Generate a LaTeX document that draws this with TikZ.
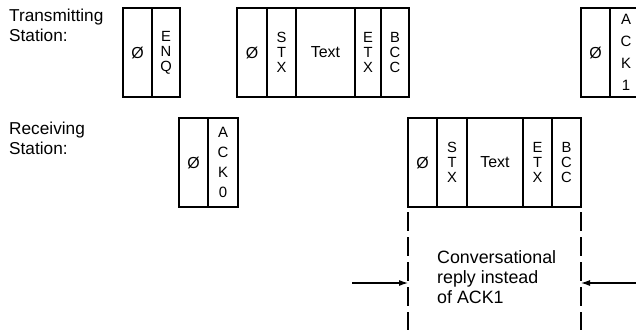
\documentclass[tikz,border=0pt]{standalone}
\usepackage{fontspec}
\setmainfont{Liberation Sans}
\usepackage{tikz}
\usetikzlibrary{positioning,arrows.meta}

\tikzset{
  cell/.style={draw, line width=1.4bp, minimum height=89bp, inner sep=0pt,
    outer sep=0pt, align=center, font=\fontsize{14.8}{15.2}\selectfont},
  wordcell/.style={cell, font=\fontsize{16}{18}\selectfont},
  ackcell/.style={cell, font=\fontsize{15}{20}\selectfont},
  lbl/.style={inner sep=0pt, align=left, anchor=north west,
    font=\fontsize{17.3}{20}\selectfont},
  note/.style={inner sep=0pt, align=left, anchor=north west,
    font=\fontsize{17.9}{20.5}\selectfont},
  guide/.style={line width=1.4bp, dash pattern=on 19bp off 6bp, dash phase=20bp},
}

\begin{document}
\begin{tikzpicture}[x=1bp,y=-1bp,node distance=0pt,>={Latex[length=9bp,width=6bp]}]
  \useasboundingbox (0,0) rectangle (636,329);
  % station labels
  \node[lbl] (tlabel) at (9,9) {Transmitting\\Station:};
  \node[lbl] (rlabel) at (9,122) {Receiving\\Station:};
  % transmitting: enquiry
  \node[wordcell, minimum width=29bp, anchor=north west] (tzero) at (123,8) {Ø};
  \node[cell, minimum width=28bp] (tenq) [right=of tzero] {E\\N\\Q};
  % transmitting: text block
  \node[wordcell, minimum width=30bp, anchor=north west] (tdzero) at (237,8) {Ø};
  \node[cell, minimum width=29bp] (tstx) [right=of tdzero] {S\\T\\X};
  \node[wordcell, minimum width=59bp] (ttext) [right=of tstx] {Text};
  \node[cell, minimum width=26bp] (tetx) [right=of ttext] {E\\T\\X};
  \node[cell, minimum width=28bp] (tbcc) [right=of tetx] {B\\C\\C};
  % transmitting: ack 1 (runs off the page)
  \node[wordcell, minimum width=29bp, anchor=north west] (tazero) at (581,8) {Ø};
  \node[ackcell, minimum width=32bp, font=\fontsize{15}{22}\selectfont] (tack) [right=of tazero] {A\\C\\K\\1};
  % receiving: ack 0
  \node[wordcell, minimum width=29bp, anchor=north west] (rzero) at (179,118) {Ø};
  \node[ackcell, minimum width=30bp] (rack) [right=of rzero] {A\\C\\K\\0};
  % receiving: text block as reply
  \node[wordcell, minimum width=29bp, anchor=north west] (rdzero) at (408,118) {Ø};
  \node[cell, minimum width=30bp] (rstx) [right=of rdzero] {S\\T\\X};
  \node[wordcell, minimum width=56bp] (rtext) [right=of rstx] {Text};
  \node[cell, minimum width=29bp] (retx) [right=of rtext] {E\\T\\X};
  \node[cell, minimum width=29bp] (rbcc) [right=of retx] {B\\C\\C};
  % span of the reply
  \coordinate (lbot) at ([yshift=-125bp]rdzero.south west);
  \coordinate (rbot) at ([yshift=-125bp]rbcc.south east);
  \draw[guide] (rdzero.south west) -- (lbot);
  \draw[guide] (rbcc.south east) -- (rbot);
  \node[note] (reply) at (437,250) {Conversational\\reply instead\\of ACK1};
  \coordinate (lin) at (352,283);
  \coordinate (rin) at (640,283);
  \coordinate (lhit) at (rdzero.south west |- lin);
  \coordinate (rhit) at (rbcc.south east |- rin);
  \draw[->, line width=1.1bp] (lin) -- (lhit);
  \draw[->, line width=1.1bp] (rin) -- (rhit);
\end{tikzpicture}
\end{document}
